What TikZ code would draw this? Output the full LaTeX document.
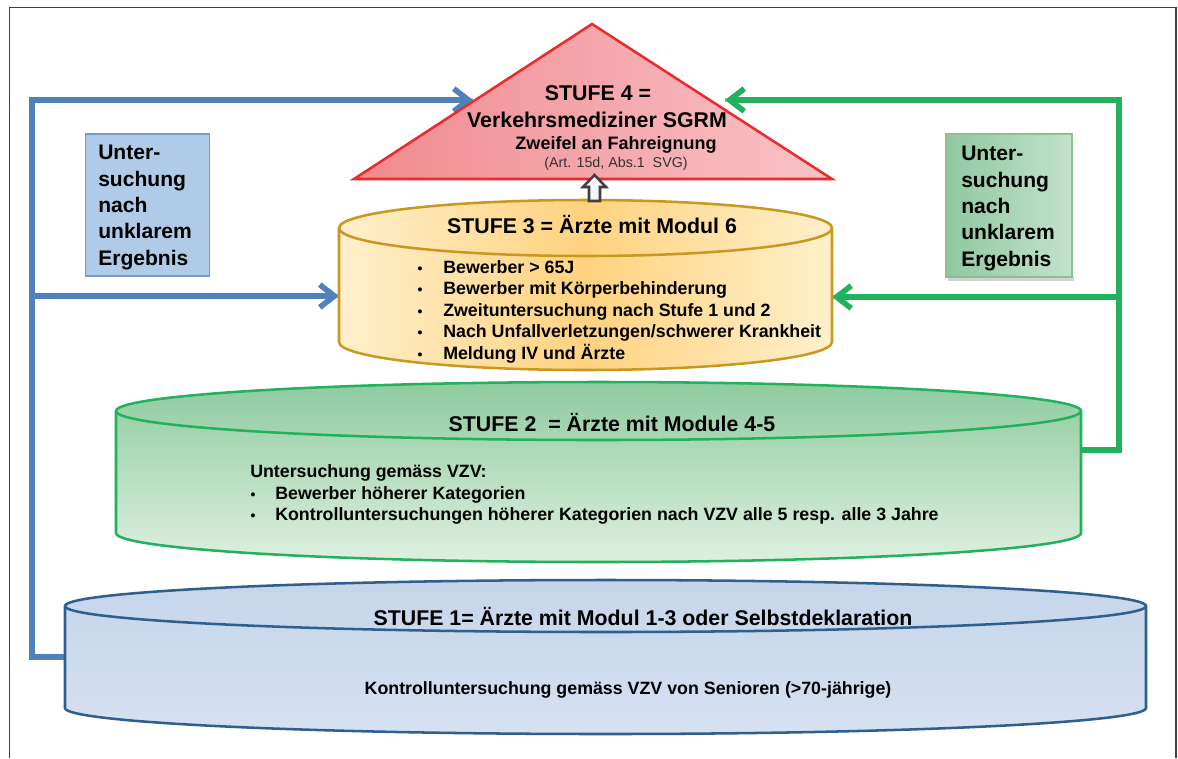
\documentclass[tikz,border=0pt]{standalone}
\usepackage{fontspec}
\setmainfont{Liberation Sans}
\usetikzlibrary{arrows.meta}
\definecolor{bline}{HTML}{4F81BD}
\definecolor{gline}{HTML}{22B15C}
\definecolor{redl}{HTML}{EE2A2E}
\definecolor{orl}{HTML}{C8991E}
\definecolor{navyl}{HTML}{2F5F8F}
\definecolor{triL}{HTML}{F08A8E}
\definecolor{triR}{HTML}{F9C3C8}
\definecolor{bbx}{HTML}{B0CBE8}
\definecolor{gbxL}{HTML}{8FC8A0}
\definecolor{gbxR}{HTML}{C3E2CD}
\definecolor{oEdge}{HTML}{FFF0CC}
\definecolor{oMid}{HTML}{FFD27F}
\definecolor{gTop}{HTML}{8FCB9F}
\definecolor{gBot}{HTML}{DDF0E0}
\definecolor{nTop}{HTML}{C5D5EA}
\definecolor{nBot}{HTML}{D6E1F1}
\tikzset{
  flow/.style={line width=3.8pt,-{Straight Barb[length=11pt,width=17pt,line width=4.2pt]},line join=miter},
  flowshade/.style={line width=3.2pt,draw=gray,opacity=.55,yshift=1.6pt},
  boxtxt/.style={font=\bfseries\fontsize{15.8}{19.8}\selectfont,align=left,anchor=north west,inner sep=0pt,text=black},
  ttl/.style={font=\bfseries\fontsize{16}{18}\selectfont,inner sep=0pt,text=black},
  itm/.style={font=\bfseries\fontsize{13.35}{15}\selectfont,anchor=base west,inner sep=0pt,text=black},
  dot/.style={font=\bfseries\fontsize{10.5}{15}\selectfont,anchor=base,inner sep=0pt,text=black}
}
\newcommand{\drum}[7]{%
  \pgfmathsetmacro\drx{(#3-#2)/2*0.75}\pgfmathsetmacro\dry{#6*0.75}%
  \path[#1] (#2,#4) arc[start angle=180,end angle=0,x radius=\drx pt,y radius=\dry pt]
     -- (#3,#5) arc[start angle=0,end angle=-180,x radius=\drx pt,y radius=\dry pt] -- cycle;
  \path[draw=#7,line width=1.9pt] (#2,#4) arc[start angle=180,end angle=360,x radius=\drx pt,y radius=\dry pt];
}
\begin{document}
\begin{tikzpicture}[x=0.75pt,y=-0.75pt]
\useasboundingbox (0,0) rectangle (1178,758);
\fill[white] (0,0) rectangle (1178,758);
\draw[black!75,line width=.9pt] (9.5,758) -- (9.5,7.5) -- (1176,7.5) -- (1176,758);
% named ends
\coordinate (s1w) at (65,657);
\coordinate (s2e) at (1081,450);
\coordinate (s3w) at (339,296);
\coordinate (s3e) at (832,297);
\coordinate (s4w) at (473,100);
\coordinate (s4e) at (725,100);
\coordinate (bl) at (32,657); \coordinate (blt) at (32,100); \coordinate (blm) at (32,296);
\coordinate (gr) at (1119,450); \coordinate (grt) at (1119,100); \coordinate (grm) at (1119,297);
% shadows
\draw[flowshade] (s1w) -- (bl) -- (blt) -- (s4w);
\draw[flowshade] (blm) -- (s3w);
\draw[flowshade] (s2e) -- (gr) -- (grt) -- (s4e);
\draw[flowshade] (grm) -- (s3e);
% blue connectors
\draw[flow,draw=bline] (s1w) -- (bl) -- (blt) -- (s4w);
\draw[flow,draw=bline] (blm) -- (s3w);
% triangle
\coordinate (ta) at (592,24); \coordinate (tl) at (354,179); \coordinate (tr) at (832,179);
\path[left color=triL,right color=triR,draw=redl,line width=1.9pt,line join=miter] (ta) -- (tr) -- (tl) -- cycle;
% green connectors
\draw[flow,draw=gline] (s2e) -- (gr) -- (grt) -- (s4e);
\draw[flow,draw=gline] (grm) -- (s3e);
% boxes
\node[draw=bline!80,fill=bbx,line width=.9pt,minimum width=93pt,minimum height=106.5pt,inner sep=0pt] (bbox) at (147.5,205) {};
\fill[black!35,opacity=.5] (948,277) rectangle (1074,281);
\path[left color=gbxL,right color=gbxR,draw=green!45!black!45!white,line width=.9pt] (946,134) rectangle (1072,277);
\node[inner sep=0pt,minimum width=94pt,minimum height=107pt] (gbox) at (1009,205.5) {};
\node[boxtxt] (btxt) at (98,145) {Unter-\\suchung\\nach\\unklarem\\Ergebnis};
\node[boxtxt] (gtxt) at (961,146) {Unter-\\suchung\\nach\\unklarem\\Ergebnis};
% drums
\drum{top color=nTop,bottom color=nBot,draw=navyl,line width=1.9pt}{65}{1146}{606}{708}{26}{navyl}
\drum{top color=gTop,bottom color=gBot,draw=gline,line width=1.9pt}{116}{1081}{411}{533}{29}{gline}
\drum{left color=oEdge,right color=oEdge,middle color=oMid,draw=orl,line width=1.9pt}{339}{832}{228}{342}{28}{orl}
% hollow up arrow
\path[draw=black!75,fill=black!4,line width=1.9pt,line join=miter]
  (594.5,175) -- (606,187) -- (600,187) -- (600,201) -- (589,201) -- (589,187) -- (583,187) -- cycle;
% texts
\node[ttl] (t4a) at (598,93) {STUFE 4 =};
\node[ttl] (t4b) at (597,120) {Verkehrsmediziner SGRM};
\node[font=\bfseries\fontsize{13.5}{15}\selectfont,inner sep=0pt,text=black] (t4c) at (616,145) {Zweifel an Fahreignung};
\node[font=\fontsize{10.7}{12}\selectfont,inner sep=0pt,text=black!80] (t4d) at (616,164) {(Art. 15d, Abs.1\ \ SVG)};
\node[ttl] (t3) at (592,225) {STUFE 3 = Ärzte mit Modul 6};
\foreach \n/\y/\t in {a/273/{Bewerber > 65J},b/294/{Bewerber mit Körperbehinderung},c/316/{Zweituntersuchung nach Stufe 1 und 2},d/337/{Nach Unfallverletzungen/schwerer Krankheit},e/359/{Meldung IV und Ärzte}}{
  \node[dot] (d3\n) at (420,\y) {•};
  \node[itm] (i3\n) at (443,\y) {\t};
}
\node[ttl] (t2) at (612,422) {STUFE 2\ \ = Ärzte mit Module 4-5};
\node[itm] (h2) at (250,477) {Untersuchung gemäss VZV:};
\node[dot] (d2a) at (253,499) {•};
\node[itm] (i2a) at (275,499) {Bewerber höherer Kategorien};
\node[dot] (d2b) at (253,520) {•};
\node[itm] (i2b) at (275,520) {Kontrolluntersuchungen höherer Kategorien nach VZV alle 5 resp. alle 3 Jahre};
\node[ttl] (t1) at (643,616) {STUFE 1= Ärzte mit Modul 1-3 oder Selbstdeklaration};
\node[itm,anchor=base] (i1) at (628,694) {Kontrolluntersuchung gemäss VZV von Senioren (>70-jährige)};
\end{tikzpicture}
\end{document}
